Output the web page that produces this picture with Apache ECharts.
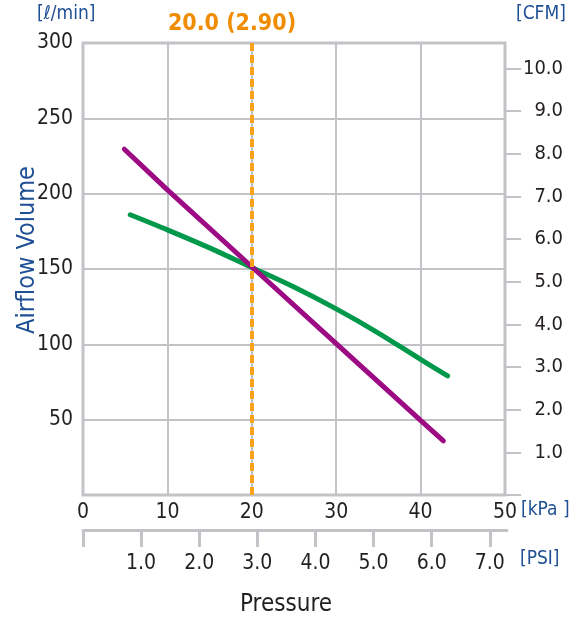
<!DOCTYPE html>
<html><head><meta charset="utf-8">
<script src="https://cdn.jsdelivr.net/npm/echarts@6/dist/echarts.min.js"></script>
<style>html,body{margin:0;padding:0;background:#fff}#c{width:585px;height:621px}</style>
</head><body><div id="c"></div>
<script>
// kPa -> l/min
const purpleX = [4.9, 10, 20, 30, 40, 42.7];
const purpleY = [229.5, 202.5, 151.5, 100.5, 49.5, 36];
const greenX = [5.6, 10, 15, 20, 25, 30, 35, 40, 43.2];
const greenY = [186, 176, 164, 151, 138, 123.5, 107.5, 90, 79];
const cfmTicks = [1, 2, 3, 4, 5, 6, 7, 8, 9, 10];
const psiTicks = [1, 2, 3, 4, 5, 6, 7];
const markKpa = 20;
const markLabel = '20.0 (2.90)';
const LPM_PER_CFM = 28.317;
const KPA_PER_PSI = 6.895;

const FONT = "'DejaVu Sans Condensed','Liberation Sans',sans-serif";
const DARK = '#231f20';
const BLUE = '#1f4f94';
const GRAY = '#c3c3c7';

const chart = echarts.init(document.getElementById('c'), null, {renderer: 'canvas'});
const pair = (xs, ys) => xs.map((x, i) => [x, ys[i]]);
const isWhole = v => Math.abs(v - Math.round(v)) < 1e-6;

chart.setOption({
  animation: false,
  grid: [
    {left: 83, right: 80, top: 43, bottom: 126, show: true, borderColor: GRAY, borderWidth: 3},
    {left: 83, right: 78, top: 529, height: 1}
  ],
  xAxis: [
    {gridIndex: 0, type: 'value', min: 0, max: 50, interval: 10,
     axisLine: {show: false}, axisTick: {show: false},
     splitLine: {show: true, lineStyle: {color: GRAY, width: 2}},
     axisLabel: {color: DARK, fontSize: 21, fontFamily: FONT, margin: 7}},
    {gridIndex: 1, type: 'value', min: 0, max: 50.3 / KPA_PER_PSI, interval: 1, position: 'bottom',
     axisLine: {show: true, lineStyle: {color: GRAY, width: 3}},
     axisTick: {show: true, length: 17, lineStyle: {color: GRAY, width: 3}},
     splitLine: {show: false},
     axisLabel: {color: DARK, fontSize: 21, fontFamily: FONT, margin: 23, showMaxLabel: false,
       formatter: v => (v > 0 && isWhole(v) && psiTicks.includes(Math.round(v))) ? v.toFixed(1) : ''}}
  ],
  yAxis: [
    {gridIndex: 0, type: 'value', min: 0, max: 300, interval: 50,
     axisLine: {show: false}, axisTick: {show: false},
     splitLine: {show: true, lineStyle: {color: GRAY, width: 2}},
     axisLabel: {color: DARK, fontSize: 21, fontFamily: FONT, margin: 10,
       formatter: v => v === 0 ? '' : String(v)}},
    {gridIndex: 0, type: 'value', min: 0, max: 300 / LPM_PER_CFM, interval: 1, position: 'right',
     axisLine: {show: false},
     axisTick: {show: true, length: 16, lineStyle: {color: GRAY, width: 2}},
     splitLine: {show: false},
     axisLabel: {color: DARK, fontSize: 20, fontFamily: FONT, margin: 58, align: 'right', showMaxLabel: false,
       formatter: v => (v > 0 && isWhole(v) && cfmTicks.includes(Math.round(v))) ? v.toFixed(1) : ''}},
    {gridIndex: 1, type: 'value', min: 0, max: 1, show: false}
  ],
  series: [
    {type: 'line', xAxisIndex: 0, yAxisIndex: 0, data: pair(greenX, greenY), smooth: 0.3,
     showSymbol: false, lineStyle: {color: '#00984a', width: 5, cap: 'round'}, z: 3},
    {type: 'line', xAxisIndex: 0, yAxisIndex: 0, data: pair(purpleX, purpleY),
     showSymbol: false, lineStyle: {color: '#9c0a84', width: 5, cap: 'round'}, z: 4,
     markLine: {silent: true, symbol: 'none', label: {show: false},
       lineStyle: {color: '#f7a21b', width: 4, type: [8, 4]},
       data: [{xAxis: markKpa}]}},
    {type: 'line', xAxisIndex: 1, yAxisIndex: 2, data: [], showSymbol: false}
  ],
  graphic: [
    {type: 'text', left: 37, top: 5, style: {text: '[ℓ/min]', fill: BLUE, font: '19px ' + FONT}},
    {type: 'text', left: 516, top: 5, style: {text: '[CFM]', fill: BLUE, font: '19px ' + FONT}},
    {type: 'text', left: 521, top: 501, style: {text: '[kPa ]', fill: BLUE, font: '19px ' + FONT}},
    {type: 'text', left: 520, top: 550, style: {text: '[PSI]', fill: BLUE, font: '19px ' + FONT}},
    {type: 'text', x: 286, y: 605, style: {text: 'Pressure', fill: DARK, font: '24px ' + FONT, align: 'center', verticalAlign: 'middle'}},
    {type: 'text', x: 27, y: 250, rotation: Math.PI / 2, style: {text: 'Airflow Volume', fill: BLUE, font: '25px ' + FONT, align: 'center', verticalAlign: 'middle'}},
    {type: 'text', x: 232, y: 24, style: {text: markLabel, fill: '#f08c00', font: 'bold 23px ' + FONT, align: 'center', verticalAlign: 'middle'}}
  ]
});
</script></body></html>
